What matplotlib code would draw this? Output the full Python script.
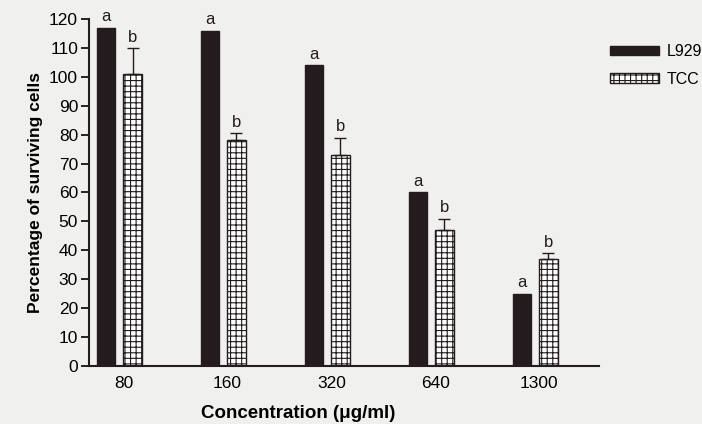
"""Cell survival vs concentration: L929 vs TCC"""

import numpy as np
import matplotlib.pyplot as plt

plt.rcParams['font.family'] = ['Liberation Sans', 'DejaVu Sans']
plt.rcParams['hatch.linewidth'] = 0.8

concentrations = ['80', '160', '320', '640', '1300']
l929_values = [117, 116, 104, 60, 25]
tcc_values = [101, 78, 73, 47, 37]
tcc_errors = [9, 2.5, 6, 4, 2]
l929_letters = ['a', 'a', 'a', 'a', 'a']
tcc_letters = ['b', 'b', 'b', 'b', 'b']

bg = '#f0f0ee'
ink = '#231b1d'
fig = plt.figure(figsize=(7.02, 4.24), dpi=100, facecolor=bg)
ax = fig.add_axes([0.127, 0.137, 0.7265, 0.818], facecolor=bg)

x = np.arange(len(concentrations))
width = 0.178
off = 0.127

b1 = ax.bar(x - off, l929_values, width, color=ink, edgecolor=ink,
            label='L929', zorder=2)
b2 = ax.bar(x + off, tcc_values, width, color='white', edgecolor=ink,
            hatch='+++', linewidth=1.0, label='TCC', zorder=2)
ax.errorbar(x + off, tcc_values, yerr=[np.zeros(len(tcc_errors)), tcc_errors],
            fmt='none', ecolor=ink, elinewidth=1.0, capsize=4, capthick=1.0,
            zorder=3)

# 显著性字母
for xi, v, s in zip(x - off, l929_values, l929_letters):
    ax.text(xi, v + 1.2, s, ha='center', va='bottom', fontsize=12, color=ink)
for xi, v, e, s in zip(x + off, tcc_values, tcc_errors, tcc_letters):
    ax.text(xi, v + e + 1.2, s, ha='center', va='bottom', fontsize=12, color=ink)

ax.set_xlim(-0.29, 4.615)
ax.set_ylim(0, 120)
ax.set_yticks(range(0, 121, 10))
ax.set_xticks(x + 0.04)
ax.set_xticklabels(concentrations, fontsize=12.5)
ax.tick_params(axis='x', length=0, pad=7)
ax.tick_params(axis='y', length=6, width=1.2, labelsize=12.5, pad=2)
for side in ['top', 'right']:
    ax.spines[side].set_visible(False)
for side in ['left', 'bottom']:
    ax.spines[side].set_linewidth(1.5)
    ax.spines[side].set_color(ink)

ax.set_ylabel('Percentage of surviving cells', fontsize=12.5, fontweight='bold', labelpad=4)
ax.set_xlabel('Concentration (\u03bcg/ml)', fontsize=13.5, fontweight='bold', labelpad=6)
ax.xaxis.set_label_coords(0.41, -0.112)

fig.legend(handles=[b1, b2], labels=['L929', 'TCC'], loc='upper left',
           bbox_to_anchor=(0.857, 0.915), frameon=False, fontsize=11.5,
           borderpad=0, handlelength=3.1, handleheight=0.55, handletextpad=0.5,
           labelspacing=0.8)

fig.savefig('out.png', dpi=100, facecolor=bg)
